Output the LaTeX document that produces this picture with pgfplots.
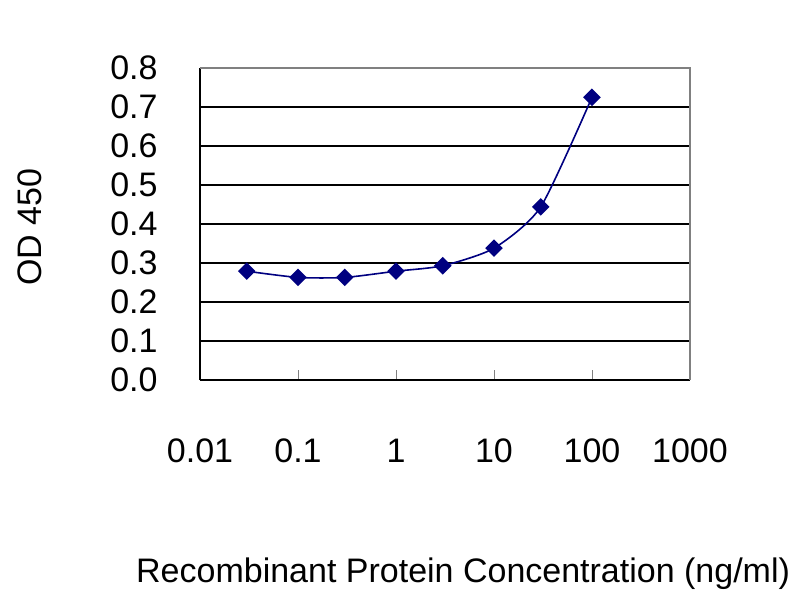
\documentclass[border=0pt]{standalone}
\usepackage{fontspec}
\setmainfont{Liberation Sans}
\usepackage{pgfplots}
\pgfplotsset{compat=1.18}
\definecolor{navy}{HTML}{000080}

\begin{document}
\begin{tikzpicture}
\path[use as bounding box] (-100pt,-110pt) rectangle (300pt,190pt);
\begin{axis}[
    at={(0pt,0pt)}, anchor=south west,
    scale only axis,
    width=245pt, height=156pt,
    xmode=log,
    xmin=0.01, xmax=1000,
    ymin=0, ymax=0.8,
    axis x line=bottom, axis y line=left,
    axis line style={-, black, line width=0.8pt},
    xtick={0.01,0.1,1,10,100,1000},
    xticklabels={0.01,0.1,1,10,100,1000},
    xtick align=inside,
    major tick length=5pt,
    xminorticks=false,
    ytick={0.1,0.2,0.3,0.4,0.5,0.6,0.7},
    yticklabels={0.1,0.2,0.3,0.4,0.5,0.6,0.7},
    extra y ticks={0,0.8},
    extra y tick labels={0.0,0.8},
    extra y tick style={grid=none},
    ymajorgrids,
    major grid style={black, line width=1pt},
    ytick style={draw=none},
    ticklabel style={font=\fontsize{17}{17}\selectfont, inner sep=0pt},
    xticklabel style={anchor=center, yshift=-35.5pt},
    yticklabel style={anchor=east, xshift=-18.5pt},
    xlabel={Recombinant Protein Concentration (ng/ml)},
    ylabel={OD 450},
    label style={font=\fontsize{17}{17}\selectfont},
    xlabel style={at={(axis description cs:0.537,0)}, anchor=center, yshift=-97pt},
    ylabel style={at={(axis description cs:-0.347,0.49)}, anchor=center},
    clip=false,
]
\draw[gray, line width=0.6pt] (rel axis cs:0,1) -- (rel axis cs:1,1) -- (rel axis cs:1,0);

\addplot[navy, line width=0.8pt, smooth, tension=0.4,
    mark=square*, mark size=2.7pt, mark options={rotate=45, fill=navy, draw=navy}]
coordinates {
(0.03,0.279) (0.1,0.263) (0.3,0.263) (1,0.279) (3,0.293) (10,0.338) (30,0.444) (100,0.725)
};
\end{axis}
\end{tikzpicture}
\end{document}
